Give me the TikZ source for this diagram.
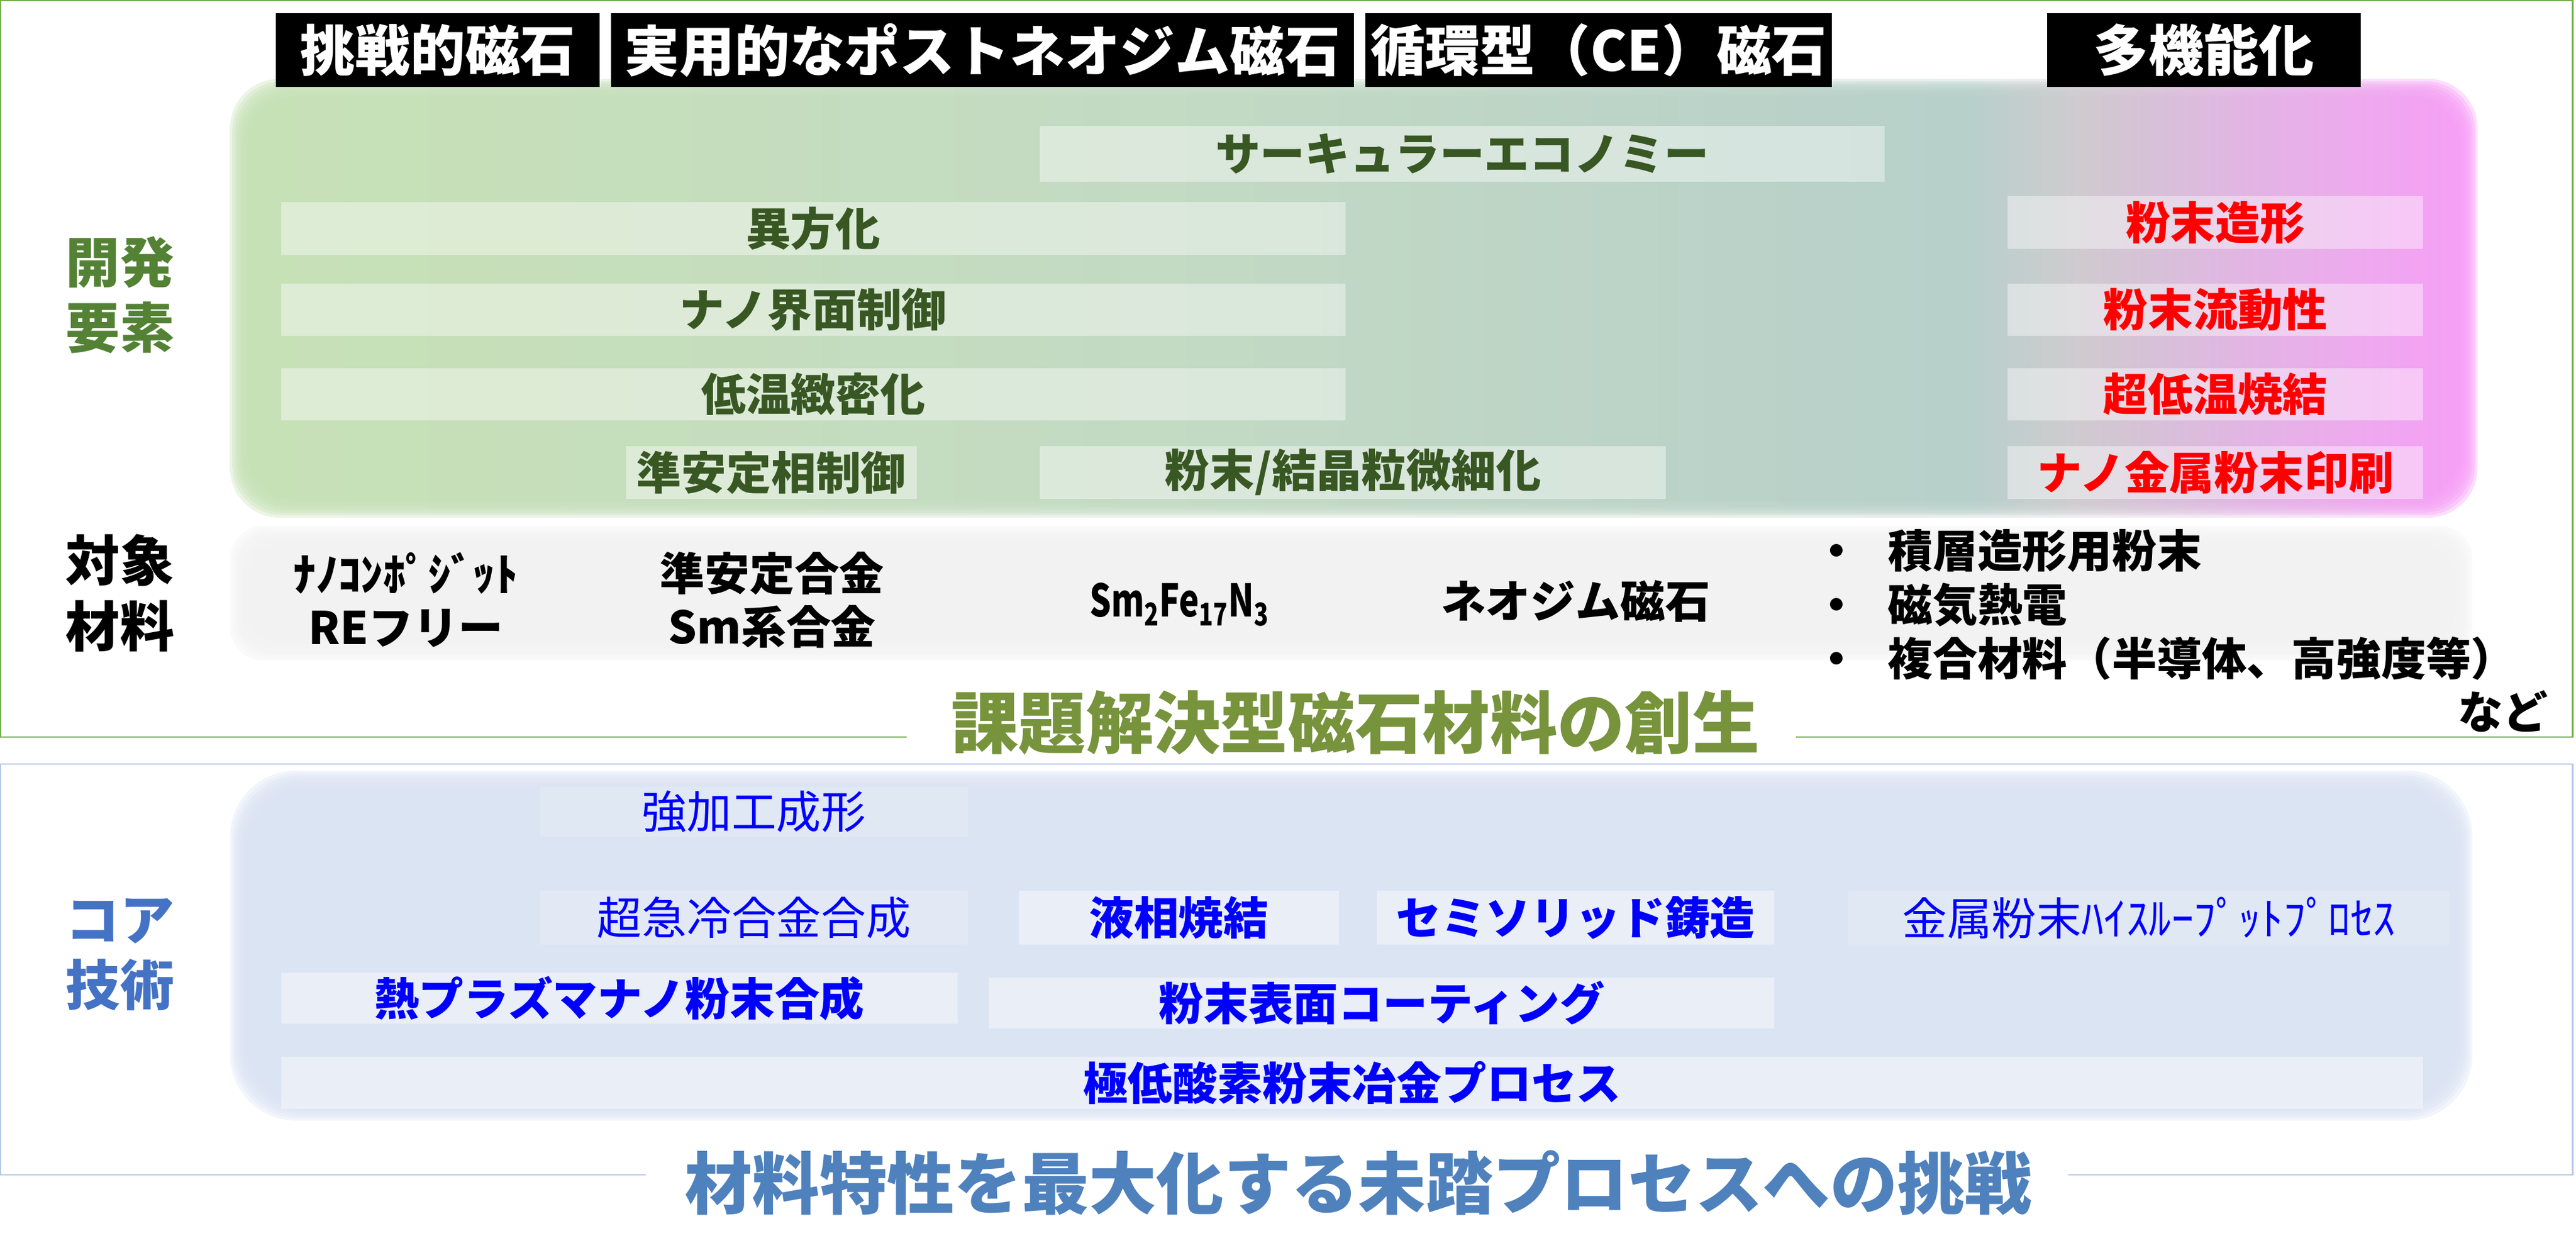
\documentclass[tikz,border=0pt]{standalone}
\usepackage{fontspec}
\setmainfont{Noto Sans CJK JP}
\usetikzlibrary{calc}

\definecolor{devgreen}{RGB}{197,224,180}
\definecolor{devmid}{RGB}{193,217,193}
\definecolor{devteal}{RGB}{181,206,200}
\definecolor{devgrey}{RGB}{205,202,205}
\definecolor{devlilac}{RGB}{227,178,229}
\definecolor{devpink}{RGB}{248,156,247}
\definecolor{matgrey}{RGB}{242,242,242}
\definecolor{coreblue}{RGB}{218,227,243}
\definecolor{framegreen}{RGB}{112,173,71}
\definecolor{frameblue}{RGB}{180,199,231}
\definecolor{labgreen}{RGB}{84,130,53}
\definecolor{labblue}{RGB}{68,114,196}
\definecolor{devtext}{RGB}{56,87,35}
\definecolor{goalgreen}{RGB}{119,147,60}
\definecolor{goalblue}{RGB}{79,129,189}
\definecolor{techblue}{RGB}{0,0,255}

\pgfdeclarehorizontalshading{devgrad}{100bp}{color(0bp)=(devgreen); color(25bp)=(devgreen);
  color(45.5bp)=(devmid); color(63.7bp)=(devteal); color(66.1bp)=(devgrey);
  color(70.3bp)=(devlilac); color(75bp)=(devpink); color(100bp)=(devpink)}

\begin{document}
\begin{tikzpicture}[x=1pt,y=-1pt,
  head/.style={fill=black,text=white,inner sep=0,minimum height=45,
    font=\fontsize{33.5}{40}\selectfont\bfseries},
  side/.style={inner sep=0,align=center,font=\fontsize{33}{40}\selectfont\bfseries},
  bar/.style={fill=white,fill opacity=0.4,text opacity=1,inner sep=0,minimum height=32,
    font=\fontsize{27.3}{32}\selectfont\bfseries},
  gbar/.style={bar,text=devtext},
  rbar/.style={bar,text=red,minimum width=253},
  bbar/.style={bar,text=techblue,minimum height=33},
  tbar/.style={bbar,fill opacity=0.15,font=\fontsize{27.3}{32}\selectfont},
  mat/.style={inner sep=0,align=center,font=\fontsize{27.3}{32.5}\selectfont\bfseries},
  title/.style={inner sep=0,font=\fontsize{41}{48}\selectfont\bfseries}]
  \useasboundingbox (0,0) rectangle (1568,766.5);

  % soft-edged panels
  \foreach \i in {0,...,7} {
    \shade[shading=devgrad,fill opacity=0.35,rounded corners=30]
      (140+1.5*\i,48+1.5*\i) rectangle (1508-1.5*\i,315-1.5*\i);
    \fill[matgrey,fill opacity=0.35,rounded corners=20]
      (140+1.5*\i,320+1.5*\i) rectangle (1505-1.5*\i,402-1.5*\i);
    \fill[coreblue,fill opacity=0.35,rounded corners=40]
      (140+1.5*\i,469+1.5*\i) rectangle (1505-1.5*\i,682-1.5*\i);
  }

  % frames
  \draw[framegreen,line width=0.8] (552,448.6) -- (0.5,448.6) -- (0.5,0.5) -- (1566,0.5) -- (1566,448.6) -- (1093,448.6);
  \draw[frameblue,line width=0.8] (393,715) -- (0.5,715) -- (0.5,465) -- (1566,465) -- (1566,715) -- (1259,715);

  % headers
  \node[head,minimum width=197] (hchal) at (266.5,30.5) {挑戦的磁石};
  \node[head,minimum width=452] (hprac) at (598,30.5) {実用的なポストネオジム磁石};
  \node[head,minimum width=284] (hcirc) at (973,30.5) {循環型（CE）磁石};
  \node[head,minimum width=191] (hmulti) at (1341.5,30.5) {多機能化};

  % row labels
  \node[side,text=labgreen] (dev) at (73,179.5) {開発\\要素};
  \node[side] (mat) at (73,361) {対象\\材料};
  \node[side,text=labblue] (core) at (73,581) {コア\\技術};

  % development elements
  \node[gbar,minimum width=514,minimum height=34] (econ) at (890,93.5) {サーキュラーエコノミー};
  \node[gbar,minimum width=648] (aniso) at (495,139) {異方化};
  \node[gbar,minimum width=648] (nanoif) at (495,188.5) {ナノ界面制御};
  \node[gbar,minimum width=648] (lowtemp) at (495,240) {低温緻密化};
  \node[gbar,minimum width=177] (metactl) at (469.5,287.5) {準安定相制御};
  \node[gbar,minimum width=381] (grain) at (823.5,287.5) {粉末/結晶粒微細化};
  \node[rbar] (shaping) at (1348.5,135.5) {粉末造形};
  \node[rbar] (flow) at (1348.5,188.5) {粉末流動性};
  \node[rbar] (sinter) at (1348.5,240) {超低温焼結};
  \node[rbar] (printing) at (1348.5,287.5) {ナノ金属粉末印刷};

  % target materials
  \node[mat] (nanocomp) at (247,365) {ﾅﾉｺﾝﾎﾟｼﾞｯﾄ\\REフリー};
  \node[mat] (metaalloy) at (470,365) {準安定合金\\Sm系合金};
  \node[mat] (smfen) at (718,368)
    {\scalebox{0.75}[1]{Sm\textsubscript{2}Fe\textsubscript{17}N\textsubscript{3}}};
  \node[mat] (ndmag) at (959,366) {ネオジム磁石};
  \node[mat,anchor=west,align=left,font=\fontsize{27.3}{33}\selectfont\bfseries] (uses) at (1104,368)
    {・\hspace{17.7pt}積層造形用粉末\\・\hspace{17.7pt}磁気熱電\\・\hspace{17.7pt}複合材料（半導体、高強度等）};
  \node[mat] (etc) at (1523.5,433) {など};

  % core technologies
  \node[tbar,minimum width=260,minimum height=30] (forming) at (459,494) {強加工成形};
  \node[tbar,minimum width=260,fill opacity=0.2] (rapid) at (459,558.5) {超急冷合金合成};
  \node[bbar,minimum width=195] (liquid) at (717.5,558.5) {液相焼結};
  \node[bbar,minimum width=242] (semisolid) at (959,558.5) {セミソリッド鋳造};
  \node[tbar,minimum width=366] (highthru) at (1308,558.5) {金属粉末ﾊｲｽﾙｰﾌﾟｯﾄﾌﾟﾛｾｽ};
  \node[bbar,minimum width=412,minimum height=31] (plasma) at (377,607.5) {熱プラズマナノ粉末合成};
  \node[bbar,minimum width=478,minimum height=31] (coating) at (841,610.5) {粉末表面コーティング};
  \node[bbar,minimum width=1304,minimum height=32] (lowox) at (823,659) {極低酸素粉末冶金プロセス};

  % goals
  \node[title,text=goalgreen] (goal) at (825,440) {課題解決型磁石材料の創生};
  \node[title,text=goalblue] (challenge) at (827,720) {材料特性を最大化する未踏プロセスへの挑戦};
\end{tikzpicture}
\end{document}
